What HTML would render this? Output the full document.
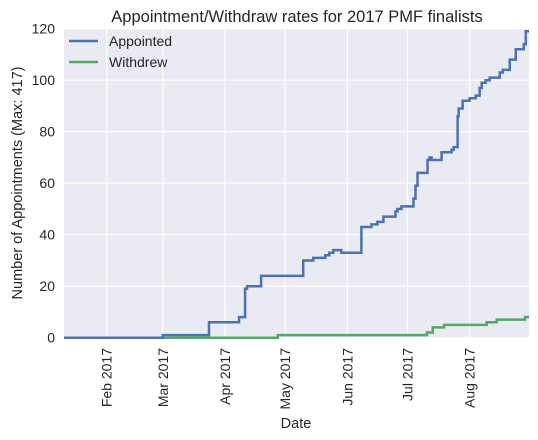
<!DOCTYPE html>
<html><head><meta charset="utf-8"><style>
body{margin:0;background:#fff;}
svg{display:block;font-family:"Liberation Sans",Arial,sans-serif;}
</style></head><body>
<svg id="chart" width="538" height="440"></svg>
<script>
// Data: day-of-year 2017 (Jan 1 = 0) and cumulative counts
const appointedDays = [9.7,59,82,97,100,101,108,129,134,140,142,144,148,158,163,166,169,175,176,178,184,185,186,191,192,193,198,203,204,206,206.5,208.5,212,215,217,218,220,222,227,228.5,232,235,239,240];
const appointedVals = [0,1,6,8,19,20,24,30,31,32,33,34,33,43,44,45,47,49,50,51,54,59,64,69,70,69,72,73,74,86,89,92,93,94,97,99,100,101,103,104,108,112,114,119];
const withdrewDays = [9.7,116.3,190.7,193.6,199.3,220.5,225.5,239.6];
const withdrewVals = [0,1,2,4,5,6,7,8];
const monthLabels = ["Feb 2017","Mar 2017","Apr 2017","May 2017","Jun 2017","Jul 2017","Aug 2017"];
const monthDays = [31,59,90,120,151,181,212];
const yTicks = [0,20,40,60,80,100,120];
const xEndDay = 241.6;

const NS="http://www.w3.org/2000/svg";
const svg=document.getElementById('chart');
const L=64,R=529,T=28.7,B=337.7;
const x0=9.7,x1=xEndDay;
const xs=d=>L+(d-x0)/(x1-x0)*(R-L);
const ys=v=>B-v/120*(B-T);
function mk(tag,attrs,parent){const e=document.createElementNS(NS,tag);for(const k in attrs)e.setAttribute(k,attrs[k]);(parent||svg).appendChild(e);return e;}

const bg=mk('rect',{x:L,y:T,width:R-L,height:B-T,fill:'#eaeaf2'});



yTicks.forEach(v=>{
  const g=mk('line',{x1:L,x2:R,y1:ys(v),y2:ys(v),stroke:'#fff','stroke-width':1.2});
  
  
  const t=mk('text',{x:55,y:ys(v)+5,'text-anchor':'end','font-size':14,fill:'#262626'});
  t.textContent=v;
  
  
});
monthDays.forEach((d,i)=>{
  const g=mk('line',{x1:xs(d),x2:xs(d),y1:T,y2:B,stroke:'#fff','stroke-width':1.2});
  
  
  const t=mk('text',{x:0,y:0,'text-anchor':'end','font-size':14,fill:'#262626',transform:`translate(${xs(d)+5},${348}) rotate(-90)`});
  t.textContent=monthLabels[i];
  
  
});

function stepPath(days,vals){
  let p=`M${xs(days[0])},${ys(vals[0])}`;
  for(let i=1;i<days.length;i++){p+=`H${xs(days[i])}V${ys(vals[i])}`;}
  p+=`H${xs(xEndDay)}`;
  return p;
}
const wl=mk('path',{d:stepPath(withdrewDays,withdrewVals),fill:'none',stroke:'#55a868','stroke-width':2.5});


const al=mk('path',{d:stepPath(appointedDays,appointedVals),fill:'none',stroke:'#4c72b0','stroke-width':2.5});



const title=mk('text',{x:297,y:22,'text-anchor':'middle','font-size':16.5,fill:'#262626'});
title.textContent='Appointment/Withdraw rates for 2017 PMF finalists';


const xl=mk('text',{x:296,y:428,'text-anchor':'middle','font-size':14.5,fill:'#262626'});
xl.textContent='Date';


const yl=mk('text',{x:0,y:0,'text-anchor':'middle','font-size':14.5,fill:'#262626',transform:'translate(22,183) rotate(-90)'});
yl.textContent='Number of Appointments (Max: 417)';



const leg=[['Appointed','#4c72b0',41],['Withdrew','#55a868',62]];
leg.forEach(([n,c,y])=>{
  const g=mk('g',{});
  
  
  mk('line',{x1:69,x2:98,y1:y,y2:y,stroke:c,'stroke-width':2.5},g);
  const t=mk('text',{x:109,y:y+5,'font-size':14,fill:'#262626'},g);
  t.textContent=n;
});
</script>
</body></html>
